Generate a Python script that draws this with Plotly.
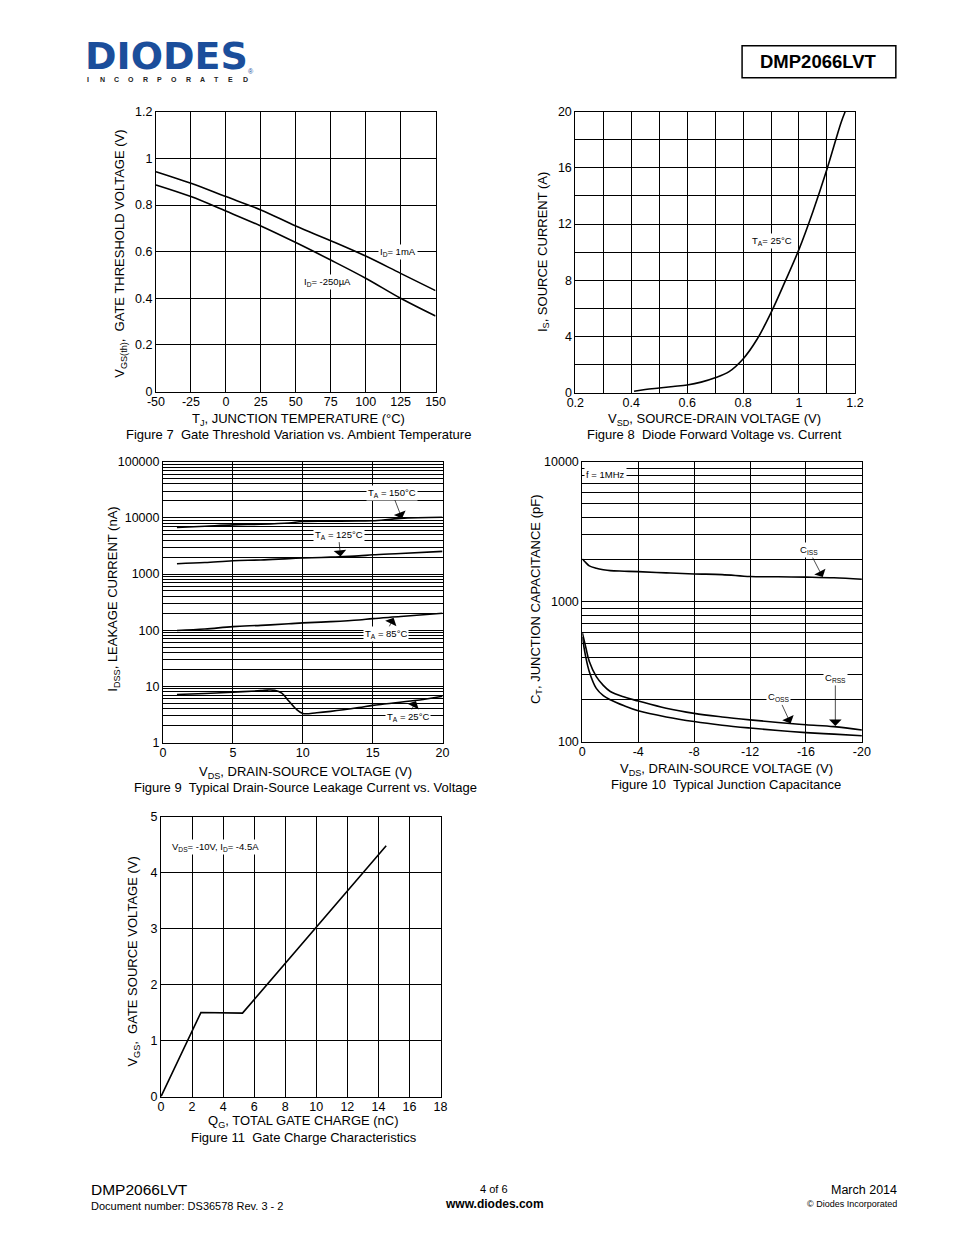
import plotly.graph_objects as go

# ---------------- data ----------------
fig7_tj = [-50, -25, 0, 25, 50, 75, 100, 125, 150]
fig7_vth_1ma = [0.943, 0.893, 0.836, 0.779, 0.71, 0.647, 0.581, 0.507, 0.433]
fig7_vth_250ua = [0.886, 0.836, 0.774, 0.71, 0.639, 0.564, 0.486, 0.40, 0.324]

fig8_vsd = [0.41, 0.45, 0.5, 0.55, 0.6, 0.65, 0.7, 0.75, 0.8, 0.85, 0.9, 0.95, 1.0, 1.05, 1.1, 1.15, 1.165]
fig8_is = [0.1, 0.22, 0.33, 0.44, 0.55, 0.75, 1.06, 1.5, 2.4, 3.8, 5.7, 7.9, 10.2, 12.9, 15.9, 19.2, 20]

fig9_vds_hot = [1, 3, 5, 7, 9, 10, 12, 14, 15, 17, 20]
fig9_i_150 = [6730, 7100, 7500, 7700, 8100, 8600, 8700, 8800, 8850, 9800, 10250]
fig9_i_125 = [1525, 1600, 1725, 1780, 1880, 1925, 2000, 2100, 2200, 2320, 2525]
fig9_i_85 = [99, 105, 116, 122, 130, 135, 142, 152, 161, 175, 200]
fig9_vds_25 = [1, 3, 5, 7, 7.5, 8, 8.5, 9, 9.5, 10, 11, 12, 14, 15, 16, 18, 20]
fig9_i_25 = [7.2, 7.5, 7.9, 8.4, 8.6, 8.5, 7.6, 5.5, 4.0, 3.3, 3.4, 3.6, 4.2, 4.6, 4.9, 5.6, 6.7]

fig10_vds = [0, -0.25, -0.5, -1, -1.5, -2, -3, -4, -6, -8, -10, -12, -14, -16, -18, -20]
fig10_ciss = [2018, 1900, 1800, 1730, 1690, 1664, 1650, 1637, 1605, 1577, 1560, 1510, 1505, 1495, 1480, 1445]
fig10_coss = [600, 470, 373, 291, 252, 228, 208, 195, 173, 159, 150, 143, 137, 132, 128, 121]
fig10_crss = [560, 400, 316, 240, 213, 199, 180, 166, 150, 139, 131, 125, 120, 116, 113, 110]

fig11_qg = [0, 2.57, 5.25, 14.5]
fig11_vgs = [0, 1.5, 1.49, 4.48]

fig7_xticks = [-50, -25, 0, 25, 50, 75, 100, 125, 150]
fig7_yticks = [0, 0.2, 0.4, 0.6, 0.8, 1, 1.2]
fig8_xticks = [0.2, 0.4, 0.6, 0.8, 1, 1.2]
fig8_yticks = [0, 4, 8, 12, 16, 20]
fig9_xticks = [0, 5, 10, 15, 20]
fig9_decades = [1, 10, 100, 1000, 10000, 100000]
fig10_xticks = [0, -4, -8, -12, -16, -20]
fig10_decades = [100, 1000, 10000]
fig11_xticks = [0, 2, 4, 6, 8, 10, 12, 14, 16, 18]
fig11_yticks = [0, 1, 2, 3, 4, 5]

# ---------------- layout helpers ----------------
W, H = 954, 1235
FONT = "Liberation Sans, Arial, sans-serif"
# compensation for the page framing observed in the rendered photo
AX, BX = 0.9816, 15.8
AY, BY = 0.9888, 15.3


def px(x):
    return ((x - BX) / AX) / W


def py(y):
    return 1 - ((y - BY) / AY) / H


def log_grid(decades):
    vals, txt = [], []
    for i, d in enumerate(decades):
        vals.append(d)
        txt.append(str(d))
        if i < len(decades) - 1:
            for m in range(2, 10):
                vals.append(d * m)
                txt.append("")
    return vals, txt


def lbl(v):
    return "%g" % v


common_ax = dict(showline=True, mirror=True, linecolor="black", linewidth=1,
                 showgrid=True, gridcolor="black", gridwidth=1, zeroline=False,
                 ticks="", tickfont=dict(size=12.5, color="black", family=FONT),
                 fixedrange=True)
xax = dict(common_ax, ticklabelstandoff=-2)

fig = go.Figure()
line = dict(color="black", width=1.6)

fig.add_trace(go.Scatter(x=fig7_tj, y=fig7_vth_1ma, mode="lines", line=line, line_shape="spline", xaxis="x", yaxis="y"))
fig.add_trace(go.Scatter(x=fig7_tj, y=fig7_vth_250ua, mode="lines", line=line, line_shape="spline", xaxis="x", yaxis="y"))
fig.add_trace(go.Scatter(x=fig8_vsd, y=fig8_is, mode="lines", line=line, line_shape="spline", xaxis="x2", yaxis="y2"))
fig.add_trace(go.Scatter(x=fig9_vds_hot, y=fig9_i_150, mode="lines", line=line, line_shape="spline", xaxis="x3", yaxis="y3"))
fig.add_trace(go.Scatter(x=fig9_vds_hot, y=fig9_i_125, mode="lines", line=line, line_shape="spline", xaxis="x3", yaxis="y3"))
fig.add_trace(go.Scatter(x=fig9_vds_hot, y=fig9_i_85, mode="lines", line=line, line_shape="spline", xaxis="x3", yaxis="y3"))
fig.add_trace(go.Scatter(x=fig9_vds_25, y=fig9_i_25, mode="lines", line=line, line_shape="spline", xaxis="x3", yaxis="y3"))
fig.add_trace(go.Scatter(x=fig10_vds, y=fig10_ciss, mode="lines", line=line, line_shape="spline", xaxis="x4", yaxis="y4"))
fig.add_trace(go.Scatter(x=fig10_vds, y=fig10_coss, mode="lines", line=line, line_shape="spline", xaxis="x4", yaxis="y4"))
fig.add_trace(go.Scatter(x=fig10_vds, y=fig10_crss, mode="lines", line=line, line_shape="spline", xaxis="x4", yaxis="y4"))
fig.add_trace(go.Scatter(x=fig11_qg, y=fig11_vgs, mode="lines", line=line, xaxis="x5", yaxis="y5"))

# plot areas (target pixel boxes)
boxes = {
    1: (155, 435, 112, 392),
    2: (575, 855, 112, 393),
    3: (162, 442, 462, 743),
    4: (582, 862, 462, 742),
    5: (160, 440, 817, 1097),
}


def dom(k):
    x0, x1, y0, y1 = boxes[k]
    return dict(x=[px(x0), px(x1)], y=[py(y1), py(y0)])


lay = {}
d = dom(1)
lay["xaxis"] = dict(xax, domain=d["x"], anchor="y", range=[-50, 150],
                    tickvals=fig7_xticks, ticktext=[lbl(v) for v in fig7_xticks])
lay["yaxis"] = dict(common_ax, domain=d["y"], anchor="x", range=[0, 1.2],
                    tickvals=fig7_yticks, ticktext=[lbl(v) for v in fig7_yticks])
d = dom(2)
lay["xaxis2"] = dict(xax, domain=d["x"], anchor="y2", range=[0.2, 1.2],
                     tickvals=fig8_xticks, ticktext=[lbl(v) for v in fig8_xticks],
                     minor=dict(dtick=0.1, showgrid=True, gridcolor="black", gridwidth=1, ticks=""))
lay["yaxis2"] = dict(common_ax, domain=d["y"], anchor="x2", range=[0, 20],
                     tickvals=fig8_yticks, ticktext=[lbl(v) for v in fig8_yticks],
                     minor=dict(dtick=2, showgrid=True, gridcolor="black", gridwidth=1, ticks=""))
d = dom(3)
v9, t9 = log_grid(fig9_decades)
lay["xaxis3"] = dict(xax, domain=d["x"], anchor="y3", range=[0, 20],
                     tickvals=fig9_xticks, ticktext=[lbl(v) for v in fig9_xticks])
lay["yaxis3"] = dict(common_ax, domain=d["y"], anchor="x3", type="log", range=[0, 5],
                     tickvals=v9, ticktext=t9)
d = dom(4)
v10, t10 = log_grid(fig10_decades)
lay["xaxis4"] = dict(xax, domain=d["x"], anchor="y4", range=[0, -20],
                     tickvals=fig10_xticks, ticktext=[lbl(v) for v in fig10_xticks])
lay["yaxis4"] = dict(common_ax, domain=d["y"], anchor="x4", type="log", range=[2, 4],
                     tickvals=v10, ticktext=t10)
d = dom(5)
lay["xaxis5"] = dict(xax, domain=d["x"], anchor="y5", range=[0, 18],
                     tickvals=fig11_xticks, ticktext=[lbl(v) for v in fig11_xticks])
lay["yaxis5"] = dict(common_ax, domain=d["y"], anchor="x5", range=[0, 5],
                     tickvals=fig11_yticks, ticktext=[lbl(v) for v in fig11_yticks])

ann = []


def ptext(x, y, text, size=13, xanchor="center", angle=0, bold=False, color="black",
          yanchor="middle", family=FONT):
    if bold:
        text = "<b>" + text + "</b>"
    ann.append(dict(x=px(x), y=py(y), xref="paper", yref="paper", text=text, showarrow=False,
                    xanchor=xanchor, yanchor=yanchor, textangle=angle,
                    font=dict(size=size, color=color, family=family)))


# axis titles & captions
ptext(298, 420, "T<sub>J</sub>, JUNCTION TEMPERATURE (°C)")
ptext(298, 435, "Figure 7  Gate Threshold Variation vs. Ambient Temperature")
ptext(120, 254, "V<sub>GS(th)</sub>,  GATE THRESHOLD VOLTAGE (V)", angle=-90)

ptext(714, 420, "V<sub>SD</sub>, SOURCE-DRAIN VOLTAGE (V)")
ptext(714, 435, "Figure 8  Diode Forward Voltage vs. Current")
ptext(543, 252, "I<sub>S</sub>, SOURCE CURRENT (A)", angle=-90)

ptext(305, 773, "V<sub>DS</sub>, DRAIN-SOURCE VOLTAGE (V)")
ptext(305, 788, "Figure 9  Typical Drain-Source Leakage Current vs. Voltage")
ptext(113, 600, "I<sub>DSS</sub>, LEAKAGE CURRENT (nA)", angle=-90)

ptext(726, 770, "V<sub>DS</sub>, DRAIN-SOURCE VOLTAGE (V)")
ptext(726, 785, "Figure 10  Typical Junction Capacitance")
ptext(536, 600, "C<sub>T</sub>, JUNCTION CAPACITANCE (pF)", angle=-90)

ptext(303, 1122, "Q<sub>G</sub>, TOTAL GATE CHARGE (nC)")
ptext(303, 1138, "Figure 11  Gate Charge Characteristics")
ptext(133, 962, "V<sub>GS</sub>,  GATE SOURCE VOLTAGE (V)", angle=-90)


def dlabel(xr, yr, x, y, text, xanchor="center"):
    ann.append(dict(x=x, y=y, xref=xr, yref=yr, text=text, showarrow=False, xanchor=xanchor,
                    bgcolor="white", borderpad=1, font=dict(size=9.5, color="black", family=FONT)))


def alabel(xr, yr, x, y, ax, ay, text):
    ann.append(dict(x=x, y=y, xref=xr, yref=yr, text=text, showarrow=True, ax=ax, ay=ay,
                    arrowhead=1, arrowsize=3, arrowwidth=0.7, arrowcolor="black", standoff=0,
                    bgcolor="white", borderpad=1, font=dict(size=9.5, color="black", family=FONT)))


# in-plot labels
dlabel("x", "y", 123, 0.6, "I<sub>D</sub>= 1mA")
dlabel("x", "y", 73, 0.47, "I<sub>D</sub>= -250µA")
dlabel("x2", "y2", 0.905, 10.8, "T<sub>A</sub>= 25°C")
alabel("x3", "y3", 17.1, 3.987, -10, -26, "T<sub>A</sub> = 150°C")
alabel("x3", "y3", 12.7, 3.31, -2, -22, "T<sub>A</sub> = 125°C")
alabel("x3", "y3", 16.5, 2.22, -8, 16, "T<sub>A</sub> = 85°C")
alabel("x3", "y3", 18.1, 0.74, -8, 16, "T<sub>A</sub> = 25°C")
dlabel("x4", "y4", -0.15, 3.905, "f = 1MHz", xanchor="left")
alabel("x4", "y4", -17.2, 3.175, -14, -27, "C<sub>ISS</sub>")
alabel("x4", "y4", -14.9, 2.13, -12, -26, "C<sub>OSS</sub>")
alabel("x4", "y4", -18.1, 2.112, 0, -48, "C<sub>RSS</sub>")
dlabel("x5", "y5", 0.6, 4.45, "V<sub>DS</sub>= -10V, I<sub>D</sub>= -4.5A", xanchor="left")

# header: logo
BLUE = "#1b4e9b"
ptext(82, 56, "DIODES", size=38, xanchor="left", bold=True, color=BLUE, family="DejaVu Sans")
inc = "INCORPORATED"
for i, ch in enumerate(inc):
    ptext(87 + i * 14.3, 80, ch, size=7, bold=True, color="#222222")
ptext(250, 72, "®", size=7, color=BLUE)

# header box
ptext(819, 62, "DMP2066LVT", size=18.5, bold=True)

# footer
ptext(88, 1190, "DMP2066LVT", size=15.5, xanchor="left")
ptext(88, 1206, "Document number: DS36578 Rev. 3 - 2", size=11, xanchor="left")
ptext(494, 1189, "4 of 6", size=11)
ptext(494, 1204, "www.diodes.com", size=12, bold=True)
ptext(899, 1190, "March 2014", size=12.5, xanchor="right")
ptext(899, 1204, "© Diodes Incorporated", size=9, xanchor="right")

shapes = [dict(type="rect", xref="paper", yref="paper", x0=px(742), x1=px(896), y0=py(78), y1=py(46),
               line=dict(color="black", width=1.5))]

fig.update_layout(width=W, height=H, margin=dict(l=0, r=0, t=0, b=0), showlegend=False,
                  paper_bgcolor="white", plot_bgcolor="white", annotations=ann, shapes=shapes,
                  font=dict(family=FONT, color="black"), **lay)

fig.write_html("out.html")
